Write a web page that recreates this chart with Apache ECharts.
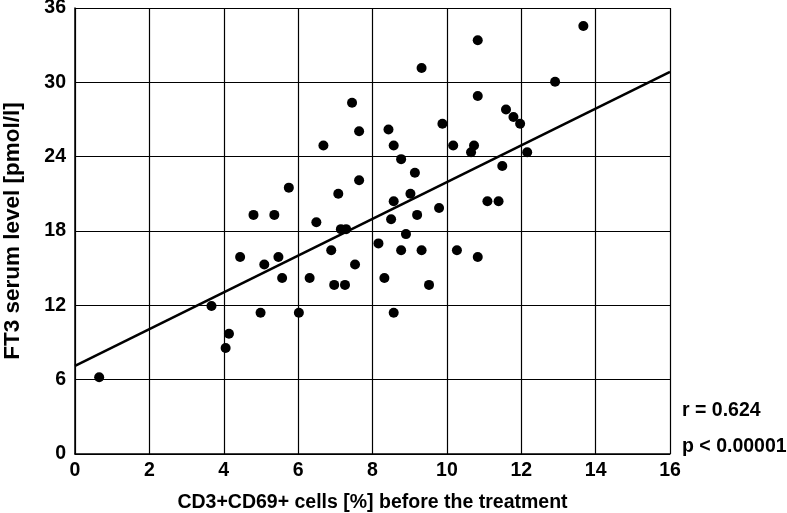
<!DOCTYPE html>
<html>
<head>
<meta charset="utf-8">
<script src="https://cdn.jsdelivr.net/npm/echarts@6/dist/echarts.min.js"></script>
<style>
  html, body { margin: 0; padding: 0; background: #fff; }
  #main { width: 787px; height: 513px; }
</style>
</head>
<body>
<div id="main"></div>
<script>
// CD3+CD69+ cells [%] vs FT3 [pmol/l]
var cellsPct = [
  0.65, 3.67, 4.14, 4.05, 4.44, 4.99, 5.09, 5.47, 5.57, 6.02,
  6.31, 6.89, 6.97, 7.26, 7.53, 8.16, 7.45, 7.64, 6.68, 5.75,
  7.64, 7.08, 4.80, 5.36, 6.49, 7.15, 7.29, 9.32, 10.83, 13.67,
  12.91, 10.83, 11.59, 11.79, 11.97, 9.88, 8.43, 8.57, 10.17, 10.73,
  10.65, 12.16, 8.77, 9.14, 11.49, 9.02, 8.57, 11.09, 11.39, 9.79,
  9.20, 8.50, 8.90, 8.77, 9.32, 10.27, 10.83, 8.32, 9.52, 8.57
];
var ft3Level = [
  6.2, 11.95, 9.7, 8.55, 15.9, 11.4, 15.3, 15.9, 14.2, 11.4,
  14.2, 16.45, 13.65, 13.65, 15.3, 17.0, 28.35, 26.05, 24.9, 21.5,
  22.1, 21.0, 19.3, 19.3, 18.7, 18.15, 18.15, 31.15, 33.4, 34.55,
  30.05, 28.9, 27.8, 27.2, 26.65, 26.65, 26.2, 24.9, 24.9, 24.9,
  24.35, 24.35, 23.8, 22.7, 23.25, 21.0, 20.4, 20.4, 20.4, 19.85,
  19.3, 18.95, 17.75, 16.45, 16.45, 16.45, 15.9, 14.2, 13.65, 11.4
];
// regression line endpoints
var fitX = [0, 16];
var fitY = [7.12, 30.84];
var statsText = ['r = 0.624', 'p < 0.00001'];

var points = cellsPct.map(function (x, i) { return [x, ft3Level[i]]; });
var fitLine = fitX.map(function (x, i) { return [x, fitY[i]]; });

var chart = echarts.init(document.getElementById('main'));
var font = 'Liberation Sans, Arial, sans-serif';
var gridLine = { show: true, lineStyle: { color: '#000', width: 1.2 } };

chart.setOption({
  animation: false,
  backgroundColor: '#fff',
  grid: { left: 75, right: 117, top: 8, bottom: 59, containLabel: false, outerBoundsMode: 'none' },
  xAxis: {
    type: 'value', min: 0, max: 16, interval: 2,
    name: 'CD3+CD69+ cells [%] before the treatment',
    nameLocation: 'middle', nameGap: 39,
    nameTextStyle: { fontFamily: font, fontWeight: 'bold', fontSize: 19.5, color: '#000' },
    axisLine: { show: true, onZero: false, lineStyle: { color: '#000', width: 1.5 } },
    axisTick: { show: false },
    axisLabel: { fontFamily: font, fontWeight: 'bold', fontSize: 19.5, color: '#000', margin: 7 },
    splitLine: gridLine
  },
  yAxis: {
    type: 'value', min: 0, max: 36, interval: 6,
    name: 'FT3 serum level [pmol/l]',
    nameLocation: 'middle', nameGap: 51,
    nameTextStyle: { fontFamily: font, fontWeight: 'bold', fontSize: 22.5, color: '#000' },
    axisLine: { show: true, onZero: false, lineStyle: { color: '#000', width: 1.5 } },
    axisTick: { show: false },
    axisLabel: { fontFamily: font, fontWeight: 'bold', fontSize: 19.5, color: '#000', margin: 9 },
    splitLine: gridLine
  },
  graphic: [
    { type: 'text', x: 682, y: 411,
      style: { text: statsText[0], fontFamily: font, fontWeight: 'bold', fontSize: 19.5,
               fill: '#000', verticalAlign: 'middle' } },
    { type: 'text', x: 682, y: 447,
      style: { text: statsText[1], fontFamily: font, fontWeight: 'bold', fontSize: 19.5,
               fill: '#000', verticalAlign: 'middle' } }
  ],
  series: [
    {
      type: 'line', data: fitLine, symbol: 'none', z: 3,
      lineStyle: { color: '#000', width: 2.6 }
    },
    {
      type: 'scatter', data: points, symbol: 'circle', symbolSize: 10, z: 4,
      itemStyle: { color: '#000', opacity: 1 }
    }
  ]
});
</script>
</body>
</html>
